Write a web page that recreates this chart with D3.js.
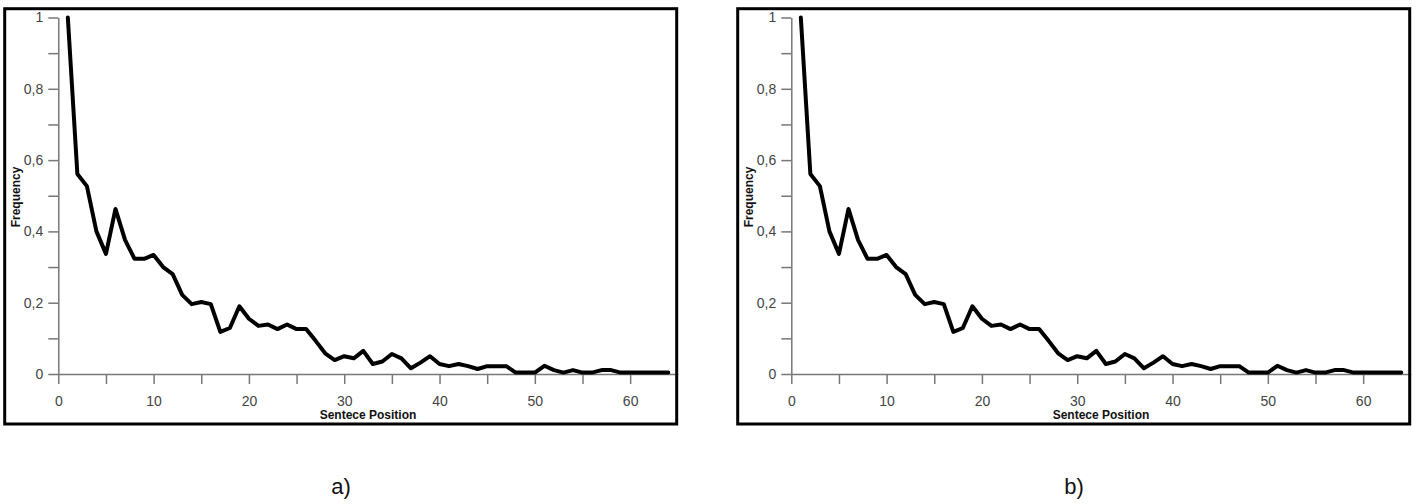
<!DOCTYPE html>
<html>
<head>
<meta charset="utf-8">
<script src="https://cdn.jsdelivr.net/npm/d3@7"></script>
<style>
  body { margin: 0; background: #fff; }
  .tick text { font-family: "Liberation Sans", Arial, sans-serif; font-size: 14px; fill: #444; }
  .axis-title { font-family: "Liberation Sans", Arial, sans-serif; font-size: 12px; font-weight: bold; fill: #111; }
  .panel-label { font-family: "Liberation Sans", Arial, sans-serif; font-size: 22px; fill: #111; }
</style>
</head>
<body>
<div class="chart"></div>
<script>
// data (sentence position 1..64)
var positions = d3.range(1, 65);
var frequency = [
  1.0, 0.561, 0.527, 0.40, 0.337, 0.463, 0.376, 0.323, 0.323, 0.334,
  0.30, 0.28, 0.222, 0.196, 0.202, 0.196, 0.118, 0.129, 0.19, 0.155,
  0.135, 0.139, 0.126, 0.139, 0.126, 0.126, 0.093, 0.058, 0.039, 0.05,
  0.044, 0.065, 0.028, 0.035, 0.056, 0.044, 0.016, 0.032, 0.05, 0.028,
  0.022, 0.028, 0.022, 0.014, 0.022, 0.022, 0.022, 0.004, 0.004, 0.004,
  0.023, 0.011, 0.004, 0.011, 0.004, 0.004, 0.011, 0.011, 0.004, 0.004,
  0.004, 0.004, 0.004, 0.004
];
var xMajorTicks = [0, 10, 20, 30, 40, 50, 60];
var xMinorTicks = [5, 15, 25, 35, 45, 55];
var yMajorTicks = [0, 0.2, 0.4, 0.6, 0.8, 1];
var yMinorTicks = [0.1, 0.3, 0.5, 0.7, 0.9];
var panelLabels = ["a)", "b)"];

var svgWidth = 1418;
var svgHeight = 504;

var svg = d3.select(".chart")
  .append("svg")
  .attr("width", svgWidth)
  .attr("height", svgHeight);

svg.append("rect").attr("width", svgWidth).attr("height", svgHeight).attr("fill", "#fff");

var data = positions.map((p, i) => ({ pos: p, freq: frequency[i] }));

function fmtComma(d) {
  return d === 0 || d === 1 ? String(d) : d3.format(".1f")(d).replace(".", ",");
}

function drawPanel(offsetX, label) {
  var g = svg.append("g").attr("transform", `translate(${offsetX}, 0)`);

  var x = d3.scaleLinear().domain([0, 65]).range([58.3, 677.8]);
  var y = d3.scaleLinear().domain([0, 1]).range([374, 17.5]);

  // minor ticks first (no labels)
  g.append("g")
    .attr("transform", "translate(0,374)")
    .call(d3.axisBottom(x).tickValues(xMinorTicks).tickSize(10).tickFormat(""))
    .call(a => a.select(".domain").remove())
    .call(a => a.selectAll("line").attr("stroke", "#777").attr("stroke-width", 1.5));

  g.append("g")
    .attr("transform", "translate(58.3,0)")
    .call(d3.axisLeft(y).tickValues(yMinorTicks).tickSize(10).tickFormat(""))
    .call(a => a.select(".domain").remove())
    .call(a => a.selectAll("line").attr("stroke", "#777").attr("stroke-width", 1.5));

  // x axis
  g.append("g")
    .attr("transform", "translate(0,374)")
    .call(d3.axisBottom(x).tickValues(xMajorTicks).tickSize(10).tickSizeOuter(0).tickPadding(12))
    .call(a => a.select(".domain").attr("stroke", "#777").attr("stroke-width", 1.5))
    .call(a => a.selectAll("line").attr("stroke", "#777").attr("stroke-width", 1.5));

  // y axis
  g.append("g")
    .attr("transform", "translate(58.3,0)")
    .call(d3.axisLeft(y).tickValues(yMajorTicks).tickFormat(fmtComma).tickSize(10).tickSizeOuter(0).tickPadding(5))
    .call(a => a.select(".domain").attr("stroke", "#777").attr("stroke-width", 1.5))
    .call(a => a.selectAll("line").attr("stroke", "#777").attr("stroke-width", 1.5));

  // the line
  var line = d3.line().x(d => x(d.pos)).y(d => y(d.freq));
  g.append("path")
    .datum(data)
    .attr("fill", "none")
    .attr("stroke", "#000")
    .attr("stroke-width", 4)
    .attr("stroke-linejoin", "round")
    .attr("stroke-linecap", "round")
    .attr("d", line);

  // axis titles
  g.append("text")
    .attr("class", "axis-title")
    .attr("x", 368)
    .attr("y", 419)
    .attr("text-anchor", "middle")
    .text("Sentece Position");

  g.append("text")
    .attr("class", "axis-title")
    .attr("transform", "translate(20,197) rotate(-90)")
    .attr("text-anchor", "middle")
    .text("Frequency");

  // frame
  g.append("rect")
    .attr("x", 4.7)
    .attr("y", 8.7)
    .attr("width", 672)
    .attr("height", 415.3)
    .attr("fill", "none")
    .attr("stroke", "#000")
    .attr("stroke-width", 3);

  svg.append("text")
    .attr("class", "panel-label")
    .attr("x", offsetX + 341)
    .attr("y", 494)
    .attr("text-anchor", "middle")
    .text(label);
}

drawPanel(0, panelLabels[0]);
drawPanel(733, panelLabels[1]);
</script>
</body>
</html>
